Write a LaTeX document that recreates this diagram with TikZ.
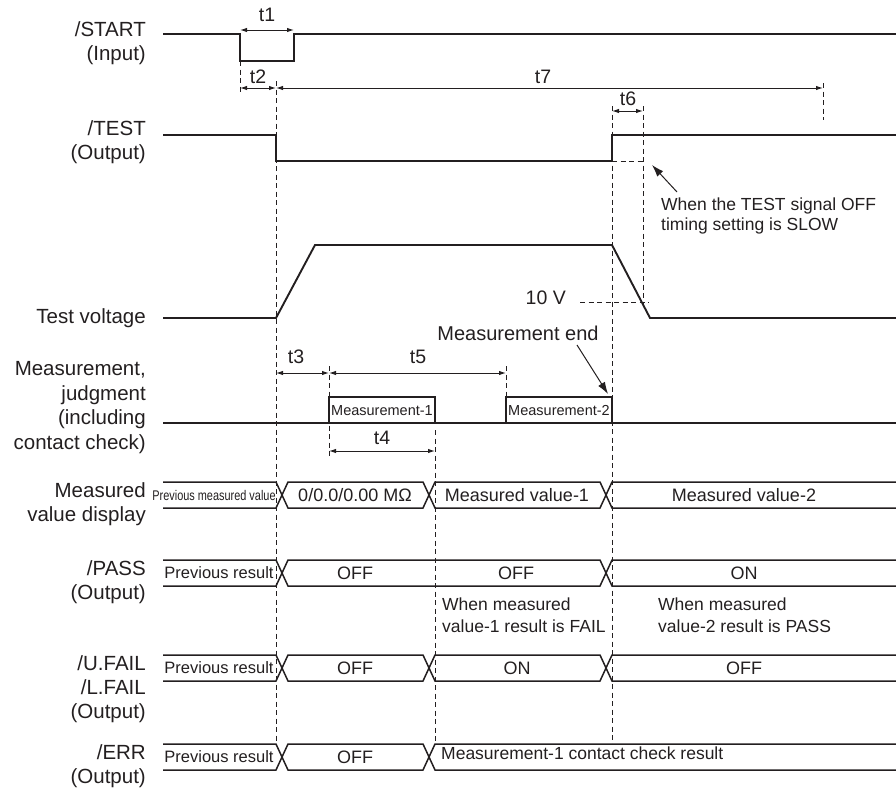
\documentclass[tikz,border=0pt]{standalone}
\usepackage{fontspec}
\usepackage{graphicx}
\setmainfont{Liberation Sans}
\usetikzlibrary{arrows.meta}
\definecolor{ink}{HTML}{231F20}
\newcommand\busL[2]{\draw[bus] (163,#1-13) -- (#2-6,#1-13) -- (#2,#1) -- (#2-6,#1+13) -- (163,#1+13);}
\newcommand\busM[3]{\draw[bus] (#2,#1) -- (#2+6,#1-13) -- (#3-6,#1-13) -- (#3,#1) -- (#3-6,#1+13) -- (#2+6,#1+13) -- cycle;}
\newcommand\busR[2]{\draw[bus] (896,#1-13) -- (#2+6,#1-13) -- (#2,#1) -- (#2+6,#1+13) -- (896,#1+13);}
\begin{document}
\begin{tikzpicture}[x=1pt,y=-1pt,
  sig/.style={line width=1.9pt, line join=miter, draw=ink},
  bus/.style={line width=1.5pt, line join=miter, draw=ink},
  dsh/.style={line width=1pt, dash pattern=on 5pt off 3.5pt, draw=ink},
  dim/.style={line width=1pt, draw=ink, {Latex[length=7pt,width=4.5pt]}-{Latex[length=7pt,width=4.5pt]}},
  ann/.style={line width=1pt, draw=ink, -{Latex[length=12pt,width=8pt]}},
  lbl/.style={font=\fontsize{20.5}{24}\selectfont, anchor=mid east, inner sep=0pt, text=ink},
  tl/.style={font=\fontsize{19.5}{23}\selectfont, inner sep=0pt, text=ink},
  bt/.style={font=\fontsize{18}{21}\selectfont, inner sep=0pt, text=ink},
  nt/.style={font=\fontsize{17.5}{21}\selectfont, inner sep=0pt, anchor=mid west, text=ink},
  pr/.style={font=\fontsize{16.5}{20}\selectfont, inner sep=0pt, text=ink},
  bx/.style={font=\fontsize{14.5}{17}\selectfont, inner sep=0pt, text=ink}
]
\useasboundingbox (0,0) rectangle (896,795);

% ---------- left labels ----------
\node[lbl] (l1) at (146,34) {/START};
\node[lbl] (l2) at (146,58) {(Input)};
\node[lbl] (l3) at (146,133) {/TEST};
\node[lbl] (l4) at (146,157) {(Output)};
\node[lbl] (l5) at (146,321) {Test voltage};
\node[lbl] (l6) at (146,373) {Measurement,};
\node[lbl] (l7) at (146,398) {judgment};
\node[lbl] (l8) at (146,422) {(including};
\node[lbl] (l9) at (146,447) {contact check)};
\node[lbl] (l10) at (146,495) {Measured};
\node[lbl] (l11) at (146,519) {value display};
\node[lbl] (l12) at (146,573) {/PASS};
\node[lbl] (l13) at (146,597) {(Output)};
\node[lbl] (l14) at (146,668) {/U.FAIL};
\node[lbl] (l15) at (146,692) {/L.FAIL};
\node[lbl] (l16) at (146,716) {(Output)};
\node[lbl] (l17) at (146,757) {/ERR};
\node[lbl] (l18) at (146,781) {(Output)};

% ---------- dashed guide lines ----------
\draw[dsh] (240,61) -- (240,94);
\draw[dsh] (276,81) -- (276,744);
\draw[dsh] (612,106) -- (612,744);
\draw[dsh] (643,106) -- (643,306);
\draw[dsh] (823,83) -- (823,120);
\draw[dsh] (612,161) -- (643,161);
\draw[dsh] (580,302) -- (649,302);
\draw[dsh] (329,366) -- (329,457);
\draw[dsh] (506,366) -- (506,397);
\draw[dsh] (435,430) -- (435,744);

% ---------- signals ----------
\draw[sig] (163,34) -- (240,34) -- (240,61) -- (294,61) -- (294,34) -- (896,34);
\draw[sig] (163,135) -- (276,135) -- (276,161) -- (612,161) -- (612,135) -- (896,135);
\draw[sig] (163,318) -- (276,318) -- (315,245) -- (612,245) -- (650,318) -- (896,318);
\draw[sig] (163,423) -- (896,423);
\draw[bus] (329,423) -- (329,397) -- (435,397) -- (435,423);
\draw[bus] (506,423) -- (506,397) -- (612,397) -- (612,423);
\node[bx] (m1) at (382,411) {Measurement-1};
\node[bx] (m2) at (559,411) {Measurement-2};

% ---------- dimension arrows ----------
\draw[dim] (240,30) -- (294,30);
\node[tl] (t1) at (267,15) {t1};
\draw[dim] (240,88) -- (276,88);
\node[tl] (t2) at (258,77) {t2};
\draw[dim] (276,88) -- (823,88);
\node[tl] (t7) at (543,77) {t7};
\draw[dim] (612,111) -- (643,111);
\node[tl] (t6) at (628,99) {t6};
\draw[dim] (276,373) -- (329,373);
\node[tl] (t3) at (296,357) {t3};
\draw[dim] (329,373) -- (506,373);
\node[tl] (t5) at (418,357) {t5};
\draw[dim] (329,451) -- (435,451);
\node[tl] (t4) at (382,438) {t4};

% ---------- annotations ----------
\node[nt] (n1) at (661,208) {When the TEST signal OFF};
\node[nt] (n2) at (661,228) {timing setting is SLOW};
\coordinate (a1s) at (677,192);
\coordinate (a1e) at (652,165);
\draw[ann] (a1s) -- (a1e);
\node[tl, anchor=mid east] (v10) at (566,302) {10 V};
\node[tl, font=\fontsize{20}{23}\selectfont] (me) at (518,333) {Measurement end};
\coordinate (a2s) at (577,345);
\coordinate (a2e) at (608,394);
\draw[ann] (a2s) -- (a2e);

% ---------- measured value display ----------
\busL{495}{282}
\busM{495}{282}{429}
\busM{495}{429}{606}
\busR{495}{606}
\node[inner sep=0pt, text=ink] (pv) at (214,495) {\fontsize{14}{14}\selectfont\scalebox{0.78}[1]{Previous measured value}};
\node[bt] (mv0) at (355,495) {0/0.0/0.00 MΩ};
\node[bt] (mv1) at (517,495) {Measured value-1};
\node[bt] (mv2) at (744,495) {Measured value-2};

% ---------- /PASS ----------
\busL{573}{282}
\busM{573}{282}{606}
\busR{573}{606}
\node[pr] (p0) at (219,573) {Previous result};
\node[bt] (p1) at (355,573) {OFF};
\node[bt] (p2) at (516,573) {OFF};
\node[bt] (p3) at (744,573) {ON};
\node[nt] (n3) at (442,608) {When measured};
\node[nt] (n4) at (442,630) {value-1 result is FAIL};
\node[nt] (n5) at (658,608) {When measured};
\node[nt] (n6) at (658,630) {value-2 result is PASS};

% ---------- /U.FAIL ----------
\busL{668}{282}
\busM{668}{282}{429}
\busM{668}{429}{606}
\busR{668}{606}
\node[pr] (u0) at (219,668) {Previous result};
\node[bt] (u1) at (355,668) {OFF};
\node[bt] (u2) at (517,668) {ON};
\node[bt] (u3) at (744,668) {OFF};

% ---------- /ERR ----------
\busL{757}{282}
\busM{757}{282}{429}
\busR{757}{429}
\node[pr] (e0) at (219,757) {Previous result};
\node[bt] (e1) at (355,757) {OFF};
\node[nt] (e2) at (441,757) {Measurement-1 contact check result};
\end{tikzpicture}
\end{document}
